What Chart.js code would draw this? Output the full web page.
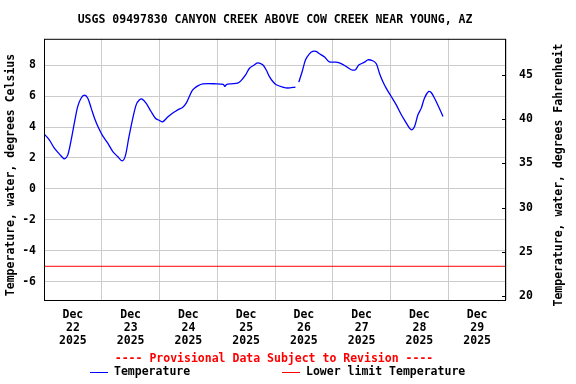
<!DOCTYPE html>
<html>
<head>
<meta charset="utf-8">
<script src="https://cdn.jsdelivr.net/npm/chart.js@4/dist/chart.umd.min.js"></script>
<style>
  html, body { margin: 0; padding: 0; background: #fff; }
</style>
</head>
<body>
<canvas id="tempChart" width="576" height="384"></canvas>
<script>
// hours since Dec 22 2025 00:00, null = gap in record
const hours = [0, 2.2, 4.3, 6.7, 8.5, 9.9, 11.3, 12.6, 14.0, 15.4, 16.8, 18.2, 19.6, 21.0, 22.7,
    24.4, 26.5, 28.6, 30.6, 32.5, 33.8, 35.2, 36.6, 38.3, 39.7, 40.8, 42.4, 44.5, 46.3,
    48.0, 49.3, 51.4, 53.5, 55.6, 57.7, 59.1, 60.4, 61.8, 63.9, 66.0, 71.5,
    74.5, 75.2, 75.8, 77.8, 80.5, 81.9, 84.0, 85.4, 87.5, 88.8, 90.9, 92.3, 93.7, 95.1,
    96.5, 99.2, 101.3, 104.5, 105.2,
    105.9, 107.3, 108.7, 110.3, 111.7, 113.1, 114.5, 116.6, 118.6, 121.4, 123.5, 125.6,
    127.7, 129.4, 130.8, 133.2, 134.6, 136.6, 138.1, 139.4, 140.8, 142.2, 144.3, 146.4,
    148.5, 150.2, 151.9, 152.9, 154.0, 155.4, 156.8, 158.1, 159.8, 160.9, 162.3, 164.1, 165.8];
const tempC = [3.56, 3.17, 2.63, 2.2, 1.94, 2.2, 3.17, 4.25, 5.32, 5.86, 6.06, 5.86, 5.22, 4.57, 3.93,
    3.43, 2.96, 2.41, 2.09, 1.81, 2.13, 3.28, 4.35, 5.43, 5.76, 5.8, 5.54, 5.0, 4.57,
    4.42, 4.33, 4.64, 4.9, 5.11, 5.28, 5.54, 5.97, 6.4, 6.66, 6.79, 6.79,
    6.75, 6.62, 6.74, 6.79, 6.84, 7.0, 7.42, 7.8, 8.02, 8.15, 8.02, 7.7, 7.26, 6.94,
    6.73, 6.58, 6.52, 6.58, null,
    6.9, 7.59, 8.34, 8.73, 8.88, 8.88, 8.73, 8.52, 8.21, 8.19, 8.09, 7.91,
    7.7, 7.7, 8.0, 8.19, 8.34, 8.28, 8.09, 7.48, 6.94, 6.51, 5.97, 5.43,
    4.79, 4.35, 3.93, 3.82, 4.03, 4.79, 5.22, 5.86, 6.29, 6.23, 5.86, 5.28, 4.68];
const lowerLimitC = -5;

const dayNumbers = ['22', '23', '24', '25', '26', '27', '28', '29'];
const monthLabel = 'Dec';
const yearLabel = '2025';
const celsiusTicks = [-6, -4, -2, 0, 2, 4, 6, 8];
const fahrenheitTicks = [20, 25, 30, 35, 40, 45];

const FONT_FAMILY = '"DejaVu Sans Mono", monospace';
const FONT = 'bold 11.5px ' + FONT_FAMILY;

const titleText = 'USGS 09497830 CANYON CREEK ABOVE COW CREEK NEAR YOUNG, AZ';
const leftTitle = 'Temperature, water, degrees Celsius';
const rightTitle = 'Temperature, water, degrees Fahrenheit';
const provisional = '---- Provisional Data Subject to Revision ----';

const tempPoints = hours.map((h, i) => ({ x: h, y: tempC[i] }));

const decor = {
    id: 'decor',
    afterDraw(chart) {
        const { ctx, chartArea: a, scales } = chart;
        ctx.save();
        ctx.strokeStyle = '#000';
        ctx.lineWidth = 1;
        ctx.strokeRect(a.left + 0.5, a.top + 0.5, a.right - a.left - 1, a.bottom - a.top);

        // short inside ticks for the Fahrenheit axis
        scales.yF.ticks.forEach(t => {
            const y = Math.round(scales.yF.getPixelForValue(t.value)) + 0.5;
            ctx.beginPath();
            ctx.moveTo(a.right - 4, y);
            ctx.lineTo(a.right, y);
            ctx.stroke();
        });

        ctx.font = FONT;
        ctx.fillStyle = '#000';
        ctx.textAlign = 'center';
        ctx.textBaseline = 'middle';
        ctx.save();
        ctx.translate(11, 175);
        ctx.rotate(-Math.PI / 2);
        ctx.fillText(leftTitle, 0, 0);
        ctx.restore();
        ctx.save();
        ctx.translate(559, 175);
        ctx.rotate(-Math.PI / 2);
        ctx.fillText(rightTitle, 0, 0);
        ctx.restore();

        ctx.fillStyle = '#ff0000';
        ctx.fillText(provisional, 274, 359);

        // legend row
        const ds = chart.data.datasets;
        const items = [{ x: 90, ds: ds[0] }, { x: 282, ds: ds[1] }];
        ctx.textAlign = 'left';
        items.forEach(it => {
            ctx.strokeStyle = it.ds.borderColor;
            ctx.beginPath();
            ctx.moveTo(it.x, 372.5);
            ctx.lineTo(it.x + 18, 372.5);
            ctx.stroke();
            ctx.fillStyle = '#000';
            ctx.fillText(it.ds.label, it.x + 24, 372);
        });
        ctx.restore();
    }
};

new Chart(document.getElementById('tempChart'), {
    type: 'line',
    data: {
        datasets: [
            {
                label: 'Temperature',
                data: tempPoints,
                borderColor: '#0000ff',
                borderWidth: 1.3,
                pointRadius: 0,
                tension: 0.3,
                spanGaps: false,
                xAxisID: 'x',
                yAxisID: 'y'
            },
            {
                label: 'Lower limit Temperature',
                data: [{ x: 0, y: lowerLimitC }, { x: 192, y: lowerLimitC }],
                borderColor: '#ff0000',
                borderWidth: 1,
                pointRadius: 0,
                xAxisID: 'x',
                yAxisID: 'y'
            }
        ]
    },
    options: {
        responsive: false,
        animation: false,
        devicePixelRatio: 1,
        layout: { padding: 0 },
        plugins: {
            legend: { display: false },
            tooltip: { enabled: false },
            title: {
                display: true,
                text: titleText,
                fullSize: false,
                color: '#000',
                font: { family: FONT_FAMILY, size: 11.5, weight: 'bold', lineHeight: 1.2 },
                padding: { top: 13, bottom: 12 }
            }
        },
        scales: {
            x: {
                type: 'linear',
                position: 'bottom',
                min: 0,
                max: 192,
                afterBuildTicks: s => { s.ticks = [0, 24, 48, 72, 96, 120, 144, 168, 192].map(v => ({ value: v })); },
                afterFit: s => { s.height = 0; },
                ticks: { display: false },
                grid: { color: '#cccccc', drawTicks: false },
                border: { display: false }
            },
            x2: {
                type: 'linear',
                position: 'bottom',
                min: 0,
                max: 192,
                afterBuildTicks: s => { s.ticks = dayNumbers.map((d, i) => ({ value: 12 + 24 * i })); },
                afterFit: s => { s.height = 84; },
                ticks: {
                    color: '#000',
                    padding: 9,
                    maxRotation: 0,
                    autoSkip: false,
                    font: { family: FONT_FAMILY, size: 11.5, weight: 'bold', lineHeight: 1.13 },
                    callback: (v, i) => [monthLabel, dayNumbers[i], yearLabel]
                },
                grid: { display: false, drawTicks: false },
                border: { display: false }
            },
            y: {
                position: 'left',
                min: -7.18,
                max: 9.70,
                afterBuildTicks: s => { s.ticks = celsiusTicks.map(v => ({ value: v })); },
                afterFit: s => { s.width = 44; },
                ticks: {
                    color: '#000',
                    padding: 8,
                    font: { family: FONT_FAMILY, size: 11.5, weight: 'bold' }
                },
                grid: { color: '#cccccc', drawTicks: false },
                border: { display: false }
            },
            yF: {
                position: 'right',
                min: 19.55,
                max: 49.07,
                afterBuildTicks: s => { s.ticks = fahrenheitTicks.map(v => ({ value: v })); },
                afterFit: s => { s.width = 70; },
                ticks: {
                    color: '#000',
                    padding: 13,
                    font: { family: FONT_FAMILY, size: 11.5, weight: 'bold' }
                },
                grid: { display: false, drawTicks: false },
                border: { display: false }
            }
        }
    },
    plugins: [decor]
});
</script>
</body>
</html>
